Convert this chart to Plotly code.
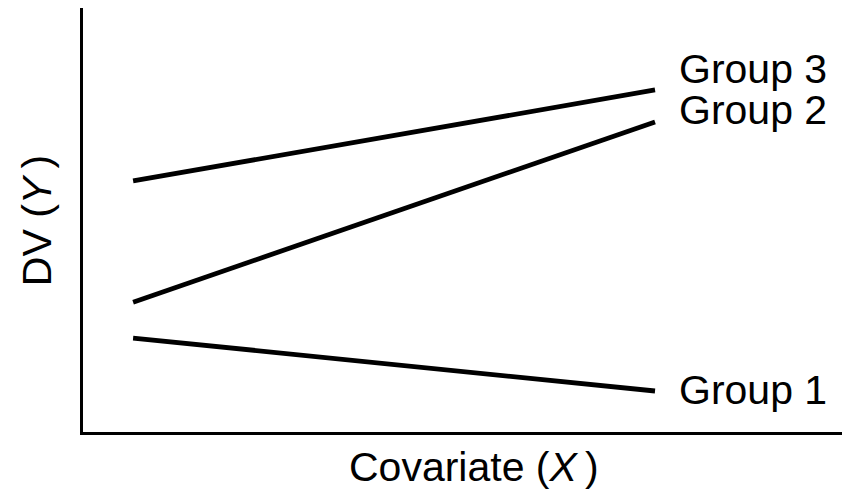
import plotly.graph_objects as go

# covariate positions (start / end of each regression line)
x_vals = [0, 1]

# DV values for each group
group1 = [2.20, 0.96]
group2 = [3.04, 7.26]
group3 = [5.88, 8.01]

group_names = ["Group 1", "Group 2", "Group 3"]

fig = go.Figure()

for name, yv in zip(group_names, [group1, group2, group3]):
    fig.add_trace(go.Scatter(x=x_vals, y=yv, mode="lines", name=name,
                             line=dict(color="black", width=4.8),
                             showlegend=False, hoverinfo="skip"))

# group labels at the right end of each line
label_shift = {"Group 1": 1, "Group 2": 12, "Group 3": 21}
for name, yv in zip(group_names, [group1, group2, group3]):
    fig.add_annotation(x=x_vals[-1], y=yv[-1], xref="x", yref="y",
                       text=name, showarrow=False, xanchor="left",
                       yanchor="middle", xshift=22, yshift=label_shift[name],
                       font=dict(size=41, color="black"))

# axis titles
fig.add_annotation(x=0.513, y=-0.083, xref="paper", yref="paper",
                   text="Covariate (<i>X</i>&#8201;)", showarrow=False,
                   xanchor="center", yanchor="middle",
                   font=dict(size=41, color="black"))
fig.add_annotation(x=-0.060, y=0.498, xref="paper", yref="paper",
                   text="DV (<i>Y</i>&#8201;)", showarrow=False, textangle=-90,
                   xanchor="center", yanchor="middle",
                   font=dict(size=41, color="black"))

axis_style = dict(showline=True, linecolor="black", linewidth=2.5,
                  showgrid=False, zeroline=False, showticklabels=False,
                  ticks="")
fig.update_xaxes(range=[-0.096, 1.364], **axis_style)
fig.update_yaxes(range=[0, 9.93], **axis_style)

# page body adds an 8px margin, so the figure is a bit smaller than the window
fig.update_layout(width=842, height=487,
                  margin=dict(l=75, r=5, t=0, b=63),
                  plot_bgcolor="white", paper_bgcolor="white",
                  font=dict(family="Liberation Sans, Arial, sans-serif"))

fig.write_html("out.html")
